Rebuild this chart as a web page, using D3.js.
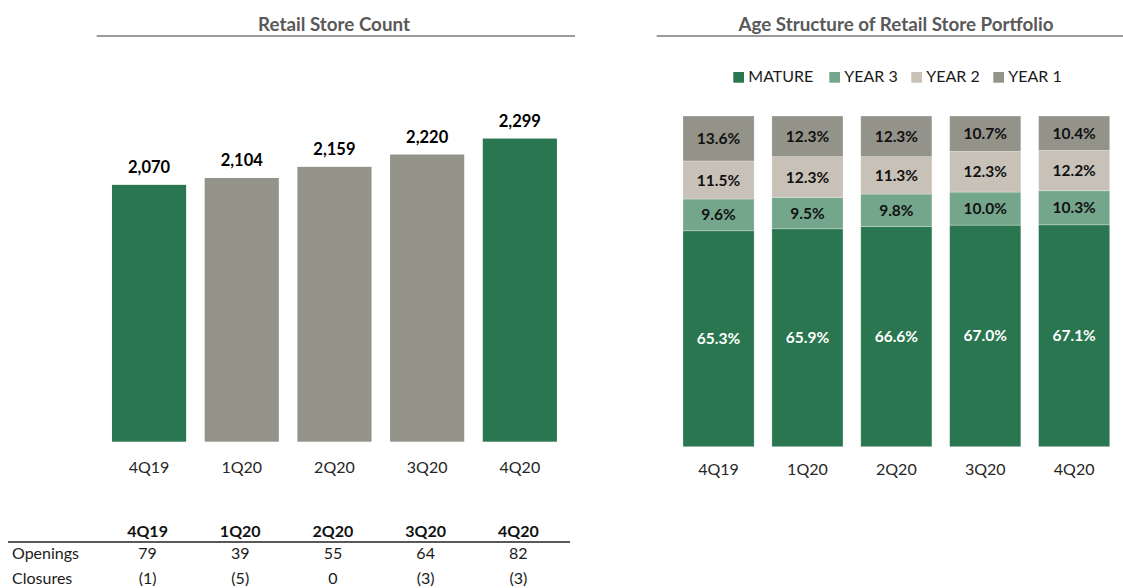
<!DOCTYPE html>
<html>
<head>
<meta charset="utf-8">
<script src="https://cdn.jsdelivr.net/npm/d3@7"></script>
<style>
  html, body { margin: 0; padding: 0; background: #fff; }
  svg { display: block; font-family: Lato, "Open Sans", sans-serif; }
</style>
</head>
<body>
<svg id="chart" width="1123" height="588"></svg>
<script>
// Quarters shown on both panels
const quarters = ["4Q19", "1Q20", "2Q20", "3Q20", "4Q20"];

// Retail store count per quarter
const storeCount = [2070, 2104, 2159, 2220, 2299];
// Year-end quarters are drawn in green
const yearEndQuarters = ["4Q19", "4Q20"];

// Openings / closures table
const openings = [79, 39, 55, 64, 82];
const closures = [-1, -5, 0, -3, -3];

// Age structure (% of portfolio)
const ageSeries = ["MATURE", "YEAR 3", "YEAR 2", "YEAR 1"];
const mature = [65.3, 65.9, 66.6, 67.0, 67.1];
const year3  = [9.6, 9.5, 9.8, 10.0, 10.3];
const year2  = [11.5, 12.3, 11.3, 12.3, 12.2];
const year1  = [13.6, 12.3, 12.3, 10.7, 10.4];

const GREEN = "#2a7650";
const GREY = "#949389";
const ageColors = {
  "MATURE": GREEN,
  "YEAR 3": "#74a68b",
  "YEAR 2": "#c8c1b7",
  "YEAR 1": GREY
};

const svg = d3.select("#chart");

// soft shadow under the title rules
const defs = svg.append("defs");
defs.append("filter").attr("id", "ruleShadow")
  .attr("x", "-5%").attr("y", "-200%").attr("width", "110%").attr("height", "500%")
  .append("feGaussianBlur").attr("stdDeviation", 1.6);

function panelTitle(text, x0, x1, cx) {
  const g = svg.append("g");
  g.append("line")
    .attr("x1", x0).attr("x2", x1).attr("y1", 39).attr("y2", 39)
    .attr("stroke", "#d4d4d4").attr("stroke-width", 3.5)
    .attr("filter", "url(#ruleShadow)");
  g.append("line")
    .attr("x1", x0).attr("x2", x1).attr("y1", 36).attr("y2", 36)
    .attr("stroke", "#7a7a7a").attr("stroke-width", 1.5);
  g.append("text")
    .attr("x", cx).attr("y", 30.8)
    .attr("text-anchor", "middle")
    .attr("font-size", 18.8).attr("font-weight", 700)
    .attr("fill", "#595959")
    .text(text);
}

/* ---------------- Retail Store Count ---------------- */
panelTitle("Retail Store Count", 96.7, 575, 334);

const countBottom = 441.7;
const xCount = d3.scaleBand()
  .domain(quarters)
  .range([102.7, 566.2])
  .paddingInner(0.2)
  .paddingOuter(0.1);

const yCount = d3.scaleLinear()
  .domain([800, 2800])
  .range([countBottom, countBottom - 404.5]);

const countData = quarters.map((q, i) => ({ q, v: storeCount[i] }));

const left = svg.append("g");
left.selectAll("rect.count")
  .data(countData)
  .join("rect")
  .attr("class", "count")
  .attr("x", d => xCount(d.q))
  .attr("width", xCount.bandwidth())
  .attr("y", d => yCount(d.v))
  .attr("height", d => yCount.range()[0] - yCount(d.v))
  .attr("fill", d => yearEndQuarters.includes(d.q) ? GREEN : GREY);

left.selectAll("text.countLabel")
  .data(countData)
  .join("text")
  .attr("class", "countLabel")
  .attr("x", d => xCount(d.q) + xCount.bandwidth() / 2)
  .attr("y", d => yCount(d.v) - 11.5)
  .attr("text-anchor", "middle")
  .attr("font-size", 16.5).attr("font-weight", 700)
  .attr("fill", "#000")
  .text(d => d3.format(",")(d.v));

const axisCount = left.append("g")
  .attr("transform", `translate(0,${countBottom})`)
  .call(d3.axisBottom(xCount).tickSize(0).tickPadding(20.3));
axisCount.select(".domain").remove();
axisCount.selectAll("text")
  .attr("font-family", "Lato, 'Open Sans', sans-serif")
  .attr("font-size", 16).attr("fill", "#262626");

/* ---------------- Openings / closures table ---------------- */
const table = svg.append("g");
const colX = q => xCount(q) + xCount.bandwidth() / 2 - 1.5;
const fmtNet = v => v < 0 ? `(${-v})` : `${v}`;

table.selectAll("text.head")
  .data(quarters)
  .join("text")
  .attr("class", "head")
  .attr("x", colX).attr("y", 536.7)
  .attr("text-anchor", "middle")
  .attr("font-size", 16).attr("font-weight", 700)
  .attr("fill", "#111")
  .text(d => d);

table.append("line")
  .attr("x1", 8).attr("x2", 570)
  .attr("y1", 542).attr("y2", 542)
  .attr("stroke", "#222").attr("stroke-width", 1.3);

const rows = [
  { label: "Openings", values: openings, y: 559.3 },
  { label: "Closures", values: closures, y: 584.3 }
];
rows.forEach(r => {
  table.append("text")
    .attr("x", 12).attr("y", r.y)
    .attr("font-size", 16).attr("fill", "#1a1a1a")
    .text(r.label);
  table.selectAll(null)
    .data(quarters.map((q, i) => ({ q, v: r.values[i] })))
    .join("text")
    .attr("x", d => colX(d.q)).attr("y", r.y)
    .attr("text-anchor", "middle")
    .attr("font-size", 16).attr("fill", "#1a1a1a")
    .text(d => fmtNet(d.v));
});

/* ---------------- Age Structure of Retail Store Portfolio ---------------- */
panelTitle("Age Structure of Retail Store Portfolio", 656.7, 1123, 896);

const ageBottom = 446.7;
const xAge = d3.scaleBand()
  .domain(quarters)
  .range([674.1, 1118.6])
  .paddingInner(0.2)
  .paddingOuter(0.1);

const yAge = d3.scaleLinear()
  .domain([0, 100])
  .range([ageBottom, 116]);

const ageRows = quarters.map((q, i) => ({
  q,
  "MATURE": mature[i],
  "YEAR 3": year3[i],
  "YEAR 2": year2[i],
  "YEAR 1": year1[i]
}));

const stacked = d3.stack().keys(ageSeries)(ageRows);

const right = svg.append("g");
const layers = right.selectAll("g.layer")
  .data(stacked)
  .join("g")
  .attr("class", "layer")
  .attr("fill", d => ageColors[d.key]);

layers.selectAll("rect")
  .data(d => d.map(p => ({ key: d.key, p })))
  .join("rect")
  .attr("x", d => xAge(d.p.data.q))
  .attr("width", xAge.bandwidth())
  .attr("y", d => yAge(d.p[1]))
  .attr("height", d => yAge(d.p[0]) - yAge(d.p[1]))
  .attr("stroke", "#ffffff").attr("stroke-opacity", 0.35).attr("stroke-width", 0.75);

layers.selectAll("text")
  .data(d => d.map(p => ({ key: d.key, p })))
  .join("text")
  .attr("x", d => xAge(d.p.data.q) + xAge.bandwidth() / 2)
  .attr("y", d => (yAge(d.p[0]) + yAge(d.p[1])) / 2)
  .attr("dy", "0.36em")
  .attr("text-anchor", "middle")
  .attr("font-size", 15.5).attr("font-weight", 700)
  .attr("fill", d => d.key === "MATURE" ? "#ffffff" : "#111")
  .text(d => d3.format(".1f")(d.p.data[d.key]) + "%");

const axisAge = right.append("g")
  .attr("transform", `translate(0,${ageBottom})`)
  .call(d3.axisBottom(xAge).tickSize(0).tickPadding(17.3));
axisAge.select(".domain").remove();
axisAge.selectAll("text")
  .attr("font-family", "Lato, 'Open Sans', sans-serif")
  .attr("font-size", 16).attr("fill", "#262626");

// Legend entries: swatch + label
const legendX = [733.3, 829.3, 911.3, 993.3];
const legend = right.append("g");
const items = legend.selectAll("g.item")
  .data(ageSeries)
  .join("g")
  .attr("class", "item")
  .attr("transform", (d, i) => `translate(${legendX[i]},0)`);
items.append("rect")
  .attr("width", 10.7).attr("height", 10.7)
  .attr("y", 72)
  .attr("fill", d => ageColors[d]);
items.append("text")
  .attr("x", 15).attr("y", 82)
  .attr("font-size", 16).attr("fill", "#1a1a1a")
  .text(d => d);
</script>
</body>
</html>
